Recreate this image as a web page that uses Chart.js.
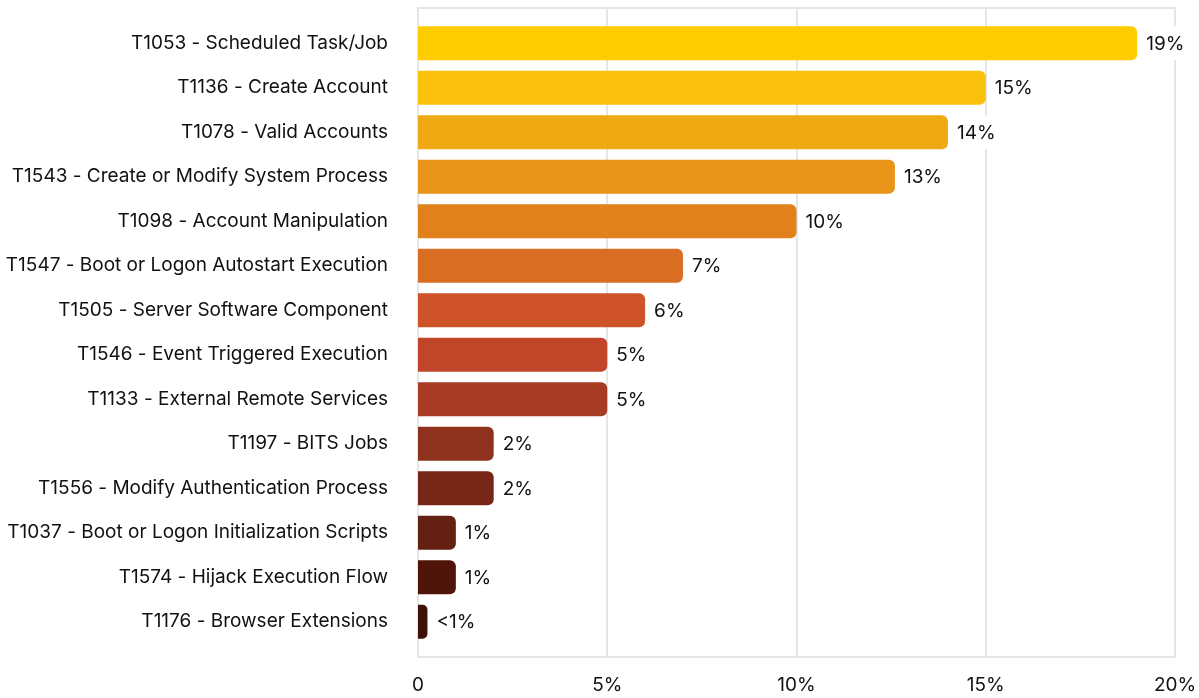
<!DOCTYPE html>
<html>
<head>
<meta charset="utf-8">
<script src="https://cdn.jsdelivr.net/npm/chart.js@4.4.1/dist/chart.umd.min.js"></script>
<style>
  html, body { margin: 0; padding: 0; background: #fff; }
  #wrap { width: 1199px; height: 698px; position: relative; }
</style>
</head>
<body>
<div id="wrap"><canvas id="chart"></canvas></div>
<script>
// data
const categories = [
  'T1053 - Scheduled Task/Job',
  'T1136 - Create Account',
  'T1078 - Valid Accounts',
  'T1543 - Create or Modify System Process',
  'T1098 - Account Manipulation',
  'T1547 - Boot or Logon Autostart Execution',
  'T1505 - Server Software Component',
  'T1546 - Event Triggered Execution',
  'T1133 - External Remote Services',
  'T1197 - BITS Jobs',
  'T1556 - Modify Authentication Process',
  'T1037 - Boot or Logon Initialization Scripts',
  'T1574 - Hijack Execution Flow',
  'T1176 - Browser Extensions'
];
const shares = [19, 15, 14, 12.6, 10, 7, 6, 5, 5, 2, 2, 1, 1, 0.25];
const shareLabels = ['19%', '15%', '14%', '13%', '10%', '7%', '6%', '5%', '5%', '2%', '2%', '1%', '1%', '<1%'];
const tickValues = [0, 5, 10, 15, 20];
const tickLabels = ['0', '5%', '10%', '15%', '20%'];

const barColors = [
  '#FFCC00', '#FAC20D', '#EFAA13', '#E89419', '#E0811B', '#D96D22', '#CE5328',
  '#C14629', '#A83B24', '#8F321D', '#782617', '#642012', '#501509', '#3E1206'
];

const FONT = "'Inter', 'Noto Sans', sans-serif";
const GRID = '#e6e6e6';
const TEXT = '#111';

// grid box: lines reach a bit past the bars at top and bottom
const gridBox = {
  id: 'gridBox',
  beforeDatasetsDraw(chart) {
    const { ctx, chartArea, scales } = chart;
    const ext = 13;
    ctx.save();
    ctx.strokeStyle = GRID;
    ctx.lineWidth = 2;
    ctx.beginPath();
    tickValues.forEach(v => {
      const px = Math.round(scales.x.getPixelForValue(v));
      ctx.moveTo(px, chartArea.top - ext);
      ctx.lineTo(px, chartArea.bottom + ext);
    });
    const l = Math.round(scales.x.getPixelForValue(tickValues[0]));
    const r = Math.round(scales.x.getPixelForValue(tickValues[tickValues.length - 1]));
    ctx.moveTo(l - 1, Math.round(chartArea.top - ext));
    ctx.lineTo(r + 1, Math.round(chartArea.top - ext));
    ctx.moveTo(l - 1, Math.round(chartArea.bottom + ext));
    ctx.lineTo(r + 1, Math.round(chartArea.bottom + ext));
    ctx.stroke();
    ctx.restore();
  }
};

// value labels with white backing box
const valueLabels = {
  id: 'valueLabels',
  afterDatasetsDraw(chart) {
    const { ctx } = chart;
    const meta = chart.getDatasetMeta(0);
    ctx.save();
    ctx.font = '19px ' + FONT;
    ctx.textBaseline = 'middle';
    ctx.textAlign = 'left';
    meta.data.forEach((bar, i) => {
      const txt = shareLabels[i];
      const w = ctx.measureText(txt).width;
      const h = bar.height;
      ctx.fillStyle = '#fff';
      ctx.fillRect(bar.x + 3, bar.y - h / 2, w + 12, h);
      ctx.fillStyle = TEXT;
      ctx.fillText(txt, bar.x + 9, bar.y + 1);
    });
    ctx.restore();
  }
};

new Chart(document.getElementById('chart'), {
  type: 'bar',
  data: {
    labels: categories,
    datasets: [{
      data: shares,
      backgroundColor: barColors,
      borderRadius: 6,
      borderSkipped: 'start',
      barPercentage: 0.76,
      categoryPercentage: 1
    }]
  },
  options: {
    indexAxis: 'y',
    responsive: true,
    maintainAspectRatio: false,
    animation: false,
    layout: { padding: { top: 21, right: 24, bottom: 0, left: 0 } },
    plugins: {
      legend: { display: false },
      tooltip: { enabled: false }
    },
    scales: {
      x: {
        min: 0,
        max: 20,
        grid: { display: false, drawTicks: false },
        border: { display: false },
        afterFit(scale) {
          scale.paddingLeft = 0;
          scale.paddingRight = 0;
          scale.height = 54;
        },
        ticks: {
          stepSize: 5,
          padding: 30,
          maxRotation: 0,
          color: TEXT,
          font: { size: 19, family: FONT },
          callback: (v) => {
            const i = tickValues.indexOf(v);
            return i >= 0 ? tickLabels[i] : '';
          }
        }
      },
      y: {
        grid: { display: false, drawTicks: false },
        border: { display: false },
        afterFit(scale) {
          scale.width = 418;
          scale.paddingTop = 0;
          scale.paddingBottom = 0;
        },
        ticks: {
          padding: 30,
          color: TEXT,
          font: { size: 19, family: FONT }
        }
      }
    }
  },
  plugins: [gridBox, valueLabels]
});
</script>
</body>
</html>
